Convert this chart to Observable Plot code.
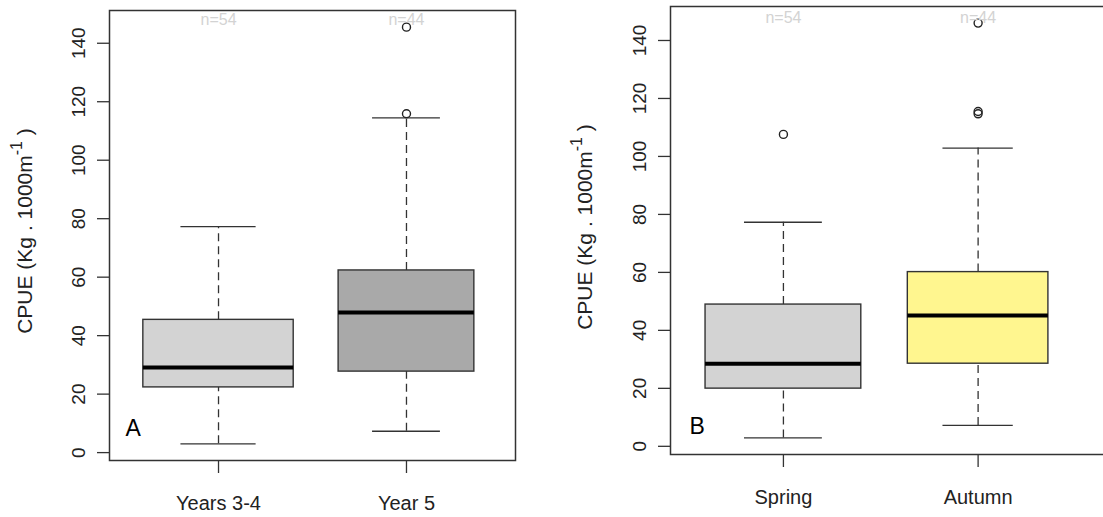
<!DOCTYPE html>
<html>
<head>
<meta charset="utf-8">
<script src="https://cdn.jsdelivr.net/npm/d3@7"></script>
<script src="https://cdn.jsdelivr.net/npm/@observablehq/plot@0.6"></script>
<style>
  html, body { margin: 0; padding: 0; background: white; }
  body { width: 1103px; height: 517px; overflow: hidden; position: relative; font-family: "Liberation Sans", Arial, sans-serif; }
  .panel { position: absolute; top: 0; width: 560px; height: 517px; }
  .panel svg { max-width: none !important; }
</style>
</head>
<body>
<div id="pa" class="panel" style="left:0px"></div>
<div id="pb" class="panel" style="left:560px"></div>
<script>
// ---------- Data ----------
const yTicks = [0, 20, 40, 60, 80, 100, 120, 140];

// Panel A
const groupsA = ["Years 3-4", "Year 5"];
const nA = [54, 44];
const lowA = [3.0, 7.3];
const q1A = [22.3, 27.7];
const medA = [29.1, 47.9];
const q3A = [45.4, 62.3];
const highA = [77.3, 114.5];
const outGroupA = ["Year 5", "Year 5"];
const outValA = [115.9, 145.5];
const fillA = ["#d3d3d3", "#a9a9a9"];

// Panel B
const groupsB = ["Spring", "Autumn"];
const nB = [54, 44];
const lowB = [2.9, 7.2];
const q1B = [19.9, 28.5];
const medB = [28.5, 45.1];
const q3B = [48.9, 60.1];
const highB = [77.3, 102.9];
const outGroupB = ["Spring", "Autumn", "Autumn", "Autumn"];
const outValB = [107.6, 114.7, 115.5, 146.0];
const fillB = ["#d3d3d3", "#fff68f"];

const FONT = '"Liberation Sans", Arial, sans-serif';

function panel(cfg) {
  const {groups, n, low, q1, med, q3, high, outGroup, outVal, fills, letter} = cfg;
  const nmax = d3.max(n);
  const rows = groups.map((g, i) => {
    const w = 0.8 * Math.sqrt(n[i] / nmax);
    return {g, x: i + 1, w, n: n[i], lo: low[i], q1: q1[i], med: med[i], q3: q3[i], hi: high[i], fill: fills[i],
            label: "n=" + n[i]};
  });
  const outs = outVal.map((v, i) => ({x: groups.indexOf(outGroup[i]) + 1, v}));
  const all = [...low, ...high, ...outVal];
  const [mn, mx] = d3.extent(all);
  const pad = (mx - mn) * 0.04;

  const plot = Plot.plot({
    width: cfg.width,
    height: 517,
    marginLeft: cfg.ml,
    marginRight: cfg.mr,
    marginTop: cfg.mt,
    marginBottom: cfg.mb,
    style: {fontFamily: FONT, fontSize: "19px", color: "#222", background: "white", maxWidth: "none"},
    x: {type: "linear", domain: cfg.xDomain},
    y: {domain: [mn - pad, mx + pad]},
    marks: [
      Plot.axisY({ticks: yTicks, tickSize: 12, tickPadding: 13, tickRotate: -90, label: null, stroke: "#333", strokeWidth: 1.3}),
      Plot.axisX({ticks: rows.map(r => r.x), tickFormat: d => groups[d - 1], tickSize: 13, tickPadding: 22, fontSize: 20, label: null, stroke: "#333", strokeWidth: 1.3}),
      // whiskers (dashed)
      Plot.ruleX(rows, {x: "x", y1: "q3", y2: "hi", stroke: "#333", strokeWidth: 1.3, strokeDasharray: "8,5"}),
      Plot.ruleX(rows, {x: "x", y1: "lo", y2: "q1", stroke: "#333", strokeWidth: 1.3, strokeDasharray: "8,5"}),
      // boxes
      Plot.rect(rows, {x1: d => d.x - d.w / 2, x2: d => d.x + d.w / 2, y1: "q1", y2: "q3", fill: "fill", stroke: "#333", strokeWidth: 1.4}),
      // medians
      Plot.ruleY(rows, {y: "med", x1: d => d.x - d.w / 2, x2: d => d.x + d.w / 2, stroke: "black", strokeWidth: 4}),
      // caps
      Plot.ruleY(rows, {y: "hi", x1: d => d.x - d.w / 4, x2: d => d.x + d.w / 4, stroke: "#333", strokeWidth: 1.3}),
      Plot.ruleY(rows, {y: "lo", x1: d => d.x - d.w / 4, x2: d => d.x + d.w / 4, stroke: "#333", strokeWidth: 1.3}),
      // outliers
      Plot.dot(outs, {x: "x", y: "v", r: 4, stroke: "#222", strokeWidth: 1.4, fill: "none"}),
      // n labels
      Plot.text(rows, {x: "x", text: "label", frameAnchor: "top", lineAnchor: "top", dy: cfg.nDy, fill: "#d3d3d3", fontSize: 16}),
      // panel letter
      Plot.text([letter], {frameAnchor: "bottom-left", textAnchor: "start", lineAnchor: "bottom", dx: cfg.letterDx, dy: cfg.letterDy, fontSize: 23, fill: "black"}),
      Plot.frame({stroke: "#333", strokeWidth: 1.5})
    ]
  });

  // y-axis title with superscript
  const svg = d3.select(plot);
  const t = svg.append("text")
    .attr("transform", `translate(${cfg.titleX},${cfg.titleY}) rotate(-90)`)
    .attr("text-anchor", "middle")
    .attr("font-family", FONT)
    .attr("font-size", 21)
    .attr("fill", "#222");
  t.append("tspan").text("CPUE (Kg . 1000m");
  t.append("tspan").attr("dy", -10).attr("font-size", 16).text("-1");
  t.append("tspan").attr("dy", 10).text(" )");
  return plot;
}

document.getElementById("pa").appendChild(panel({
  groups: groupsA, n: nA, low: lowA, q1: q1A, med: medA, q3: q3A, high: highA,
  outGroup: outGroupA, outVal: outValA, fills: fillA, letter: "A",
  width: 560, ml: 109, mr: 45, mt: 10, mb: 57, xDomain: [0.42, 2.58],
  nDy: 3, letterDx: 16, letterDy: -25, titleX: 31.5, titleY: 231
}));

document.getElementById("pb").appendChild(panel({
  groups: groupsB, n: nB, low: lowB, q1: q1B, med: medB, q3: q3B, high: highB,
  outGroup: outGroupB, outVal: outValB, fills: fillB, letter: "B",
  width: 560, ml: 110, mr: 10, mt: 6, mb: 63, xDomain: [0.42, 2.68],
  nDy: 5, letterDx: 19, letterDy: -21, titleX: 31.5, titleY: 227
}));
</script>
</body>
</html>
